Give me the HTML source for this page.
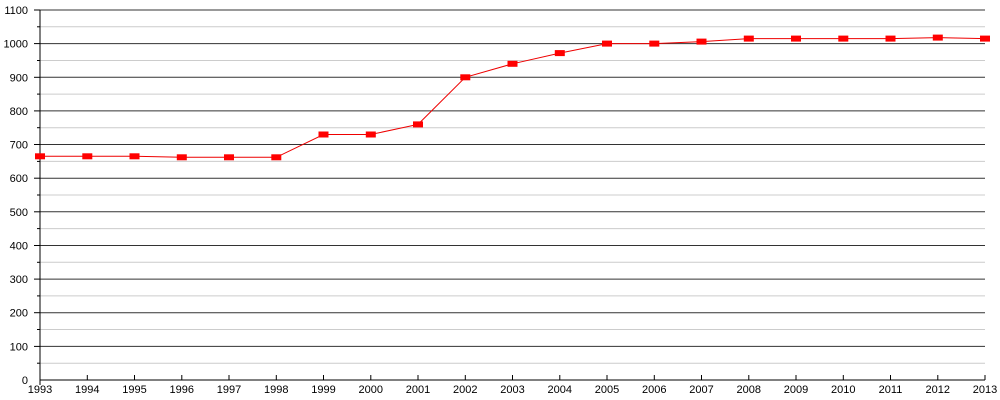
<!DOCTYPE html>
<html><head><meta charset="utf-8"><style>body{margin:0;background:#fff}svg{display:block}text{font-family:"Liberation Sans",sans-serif;font-size:11px;fill:#000}</style></head>
<body><svg id="s" width="1000" height="400" xmlns="http://www.w3.org/2000/svg"></svg>
<script>
const s=document.getElementById('s');let h='';
const x0=40,x1=985,y0=380,yt=10,k=(y0-yt)/1100,dx=(x1-x0)/20;
const Y=v=>y0-v*k;
for(let v=50;v<=1100;v+=50){const y=Y(v).toFixed(1);const major=v%100==0;
h+=`<line x1="${x0}" x2="${x1}" y1="${y}" y2="${y}" stroke="${major?'#333':'#ccc'}" stroke-width="1"/>`;
h+=`<line x1="${major?34:37}" x2="${x0}" y1="${y}" y2="${y}" stroke="#000"/>`;}
for(let v=0;v<=1100;v+=100)h+=`<text x="28" y="${(Y(v)+4).toFixed(1)}" text-anchor="end">${v}</text>`;
h+=`<line x1="${x0}" x2="${x0}" y1="${yt}" y2="${y0+5}" stroke="#000"/>`;
h+=`<line x1="${x0}" x2="${x1}" y1="${y0}" y2="${y0}" stroke="#000"/>`;
const d=[665,665,665,662,662,662,730,730,760,900,940,972,1000,1000,1006,1015,1015,1015,1015,1018,1015];
let p='';
for(let i=0;i<=20;i++){const x=(x0+i*dx).toFixed(1);
h+=`<line x1="${x}" x2="${x}" y1="${y0-5}" y2="${y0}" stroke="#000"/>`;
h+=`<text x="${x}" y="393" text-anchor="middle">${1993+i}</text>`;
p+=`${x},${Y(d[i]).toFixed(1)} `;}
h+=`<polyline points="${p}" fill="none" stroke="#e00" stroke-width="1"/>`;
for(let i=0;i<=20;i++){const x=x0+i*dx,y=Y(d[i]);h+=`<rect x="${(x-5).toFixed(1)}" y="${(y-3).toFixed(1)}" width="10" height="6" fill="#f00"/>`;}
s.innerHTML=h;
</script></body></html>
